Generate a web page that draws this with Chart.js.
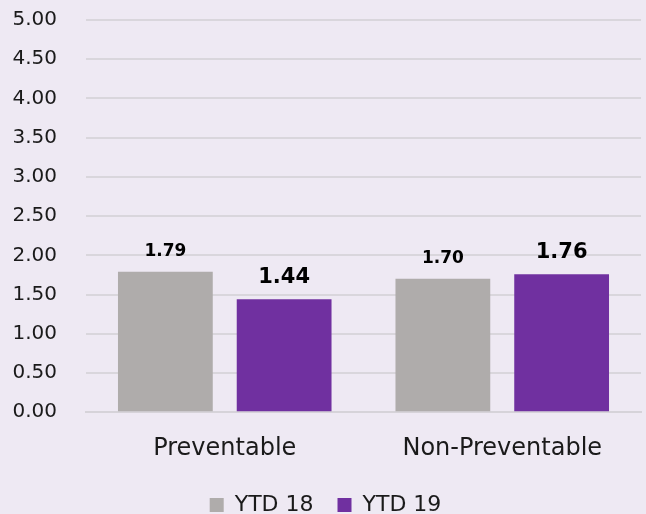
<!DOCTYPE html>
<html>
<head>
<meta charset="utf-8">
<script src="https://cdn.jsdelivr.net/npm/chart.js@4"></script>
<style>
  html, body { margin: 0; padding: 0; background: #eee9f3; }
  #wrap { width: 646px; height: 514px; }
</style>
</head>
<body>
<div id="wrap"><canvas id="rateChart"></canvas></div>
<script>
const categories = ['Preventable', 'Non-Preventable'];
const ytd18 = [1.79, 1.70];
const ytd19 = [1.44, 1.76];
const seriesNames = ['YTD 18', 'YTD 19'];

const FONT = "'DejaVu Sans', sans-serif";
const LEGEND_H = 29;   // height reserved for the legend row
const LEGEND_GAP = 9;  // space above the legend items

// background fill
const bgPlugin = {
  id: 'bg',
  beforeDraw(chart) {
    const ctx = chart.ctx;
    ctx.save();
    ctx.fillStyle = '#eee9f3';
    ctx.fillRect(0, 0, chart.width, chart.height);
    ctx.restore();
  }
};

// keep the legend short while still spacing the items widely
const legendTweak = {
  id: 'legendTweak',
  beforeLayout(chart) {
    const lg = chart.legend;
    if (lg && !lg._short) {
      const fit = lg.fit;
      lg.fit = function () {
        fit.call(this);
        this.height = LEGEND_H;
      };
      lg._short = true;
    }
  },
  afterLayout(chart) {
    const lg = chart.legend;
    lg.top += LEGEND_GAP - lg.options.labels.padding;
    lg.bottom = chart.height;
    lg.height = lg.bottom - lg.top;
  }
};

// value labels above each bar
const valueLabels = {
  id: 'valueLabels',
  afterDatasetsDraw(chart) {
    const ctx = chart.ctx;
    ctx.save();
    ctx.fillStyle = '#000';
    ctx.textAlign = 'center';
    ctx.textBaseline = 'alphabetic';
    chart.data.datasets.forEach((ds, i) => {
      const size = i === 0 ? 17 : 21;
      ctx.font = 'bold ' + size + 'px ' + FONT;
      chart.getDatasetMeta(i).data.forEach((bar, j) => {
        ctx.fillText(ds.data[j].toFixed(2), bar.x, bar.y - 16);
      });
    });
    ctx.restore();
  }
};

new Chart(document.getElementById('rateChart'), {
  type: 'bar',
  data: {
    labels: categories,
    datasets: [
      {
        label: seriesNames[0],
        data: ytd18,
        backgroundColor: '#afacab',
        categoryPercentage: 0.856,
        barPercentage: 0.798
      },
      {
        label: seriesNames[1],
        data: ytd19,
        backgroundColor: '#7030a0',
        categoryPercentage: 0.856,
        barPercentage: 0.798
      }
    ]
  },
  options: {
    responsive: true,
    maintainAspectRatio: false,
    animation: false,
    layout: { padding: { left: 10, right: 5, top: 20, bottom: 0 } },
    scales: {
      x: {
        grid: { display: false, drawTicks: false },
        border: { display: true, color: '#d6d3d9', width: 2 },
        ticks: { color: '#1a1a1a', padding: 22, font: { family: FONT, size: 24 } },
        afterFit: (scale) => { scale.paddingLeft = 0; scale.paddingRight = 0; }
      },
      y: {
        min: 0,
        max: 5,
        grid: { color: '#d9d6dc', lineWidth: 2, drawTicks: false },
        border: { display: false },
        ticks: {
          stepSize: 0.5,
          color: '#1a1a1a',
          padding: 29,
          font: { family: FONT, size: 20 },
          callback: (v) => v.toFixed(2)
        },
        afterFit: (scale) => {
          scale.width = 76;
          scale.paddingTop = 0;
          scale.paddingBottom = 0;
        }
      }
    },
    plugins: {
      tooltip: { enabled: false },
      legend: {
        position: 'bottom',
        labels: {
          color: '#1a1a1a',
          boxWidth: 14,
          boxHeight: 14,
          padding: 24,
          font: { family: FONT, size: 22 }
        }
      }
    }
  },
  plugins: [bgPlugin, legendTweak, valueLabels]
});
</script>
</body>
</html>
